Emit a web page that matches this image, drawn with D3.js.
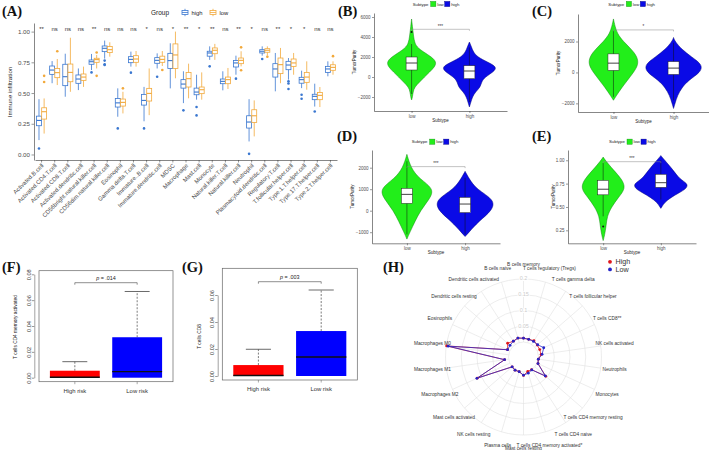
<!DOCTYPE html>
<html>
<head>
<meta charset="utf-8">
<script src="https://cdn.jsdelivr.net/npm/d3@7"></script>
<style>
  body { margin: 0; background: #fff; }
  svg text { font-family: "Liberation Sans", Arial, sans-serif; }
</style>
</head>
<body>
<script>
// ---------- (A) immune infiltration, high vs low ----------
const immuneCells = [
  'Activated.B.cell', 'Activated.CD4.T.cell', 'Activated.CD8.T.cell', 'Activated.dendritic.cell',
  'CD56bright.natural.killer.cell', 'CD56dim.natural.killer.cell', 'Eosinophil', 'Gamma.delta.T.cell',
  'Immature..B.cell', 'Immature.dendritic.cell', 'MDSC', 'Macrophage', 'Mast.cell', 'Monocyte',
  'Natural.killer.T.cell', 'Natural.killer.cell', 'Neutrophil', 'Plasmacytoid.dendritic.cell',
  'Regulatory.T.cell', 'T.follicular.helper.cell', 'Type.1.T.helper.cell', 'Type.17.T.helper.cell',
  'Type.2.T.helper.cell'
];
const immuneSig = ['**', 'ns', 'ns', 'ns', '**', 'ns', 'ns', 'ns', '*', 'ns', '*', '**', '*', '**',
  'ns', '**', '*', 'ns', '**', '*', '*', 'ns', 'ns'];
const groups = ['high', 'low'];
// [lower whisker, Q1, median, Q3, upper whisker]
const highBox = [
  [0.117, 0.234, 0.277, 0.312, 0.45], [0.58, 0.652, 0.687, 0.72, 0.76], [0.47, 0.56, 0.633, 0.734, 0.82],
  [0.524, 0.579, 0.614, 0.647, 0.70], [0.687, 0.734, 0.755, 0.769, 0.818], [0.78, 0.837, 0.864, 0.883, 0.927],
  [0.307, 0.386, 0.42, 0.456, 0.538], [0.715, 0.747, 0.774, 0.796, 0.837], [0.27, 0.402, 0.44, 0.489, 0.55],
  [0.70, 0.742, 0.766, 0.788, 0.823], [0.538, 0.70, 0.764, 0.823, 0.905], [0.418, 0.54, 0.573, 0.609, 0.677],
  [0.446, 0.486, 0.508, 0.54, 0.649], [0.77, 0.80, 0.826, 0.84, 0.88], [0.522, 0.576, 0.595, 0.614, 0.677],
  [0.649, 0.712, 0.745, 0.764, 0.804], [0.106, 0.215, 0.264, 0.315, 0.45], [0.804, 0.826, 0.84, 0.853, 0.88],
  [0.514, 0.63, 0.696, 0.739, 0.826], [0.609, 0.69, 0.728, 0.758, 0.785], [0.54, 0.58, 0.609, 0.628, 0.682],
  [0.39, 0.446, 0.473, 0.49, 0.576], [0.636, 0.668, 0.696, 0.717, 0.758]
];
const lowBox = [
  [0.17, 0.288, 0.348, 0.38, 0.456], [0.565, 0.625, 0.666, 0.70, 0.777], [0.51, 0.592, 0.668, 0.736, 0.95],
  [0.55, 0.603, 0.63, 0.655, 0.715], [0.70, 0.75, 0.772, 0.783, 0.81], [0.796, 0.829, 0.853, 0.878, 0.913],
  [0.334, 0.394, 0.424, 0.451, 0.51], [0.715, 0.75, 0.777, 0.804, 0.842], [0.32, 0.435, 0.497, 0.538, 0.70],
  [0.72, 0.75, 0.774, 0.80, 0.842], [0.62, 0.70, 0.81, 0.90, 1.0], [0.457, 0.549, 0.617, 0.668, 0.739],
  [0.446, 0.495, 0.527, 0.549, 0.668], [0.77, 0.82, 0.848, 0.867, 0.90], [0.533, 0.576, 0.609, 0.63, 0.704],
  [0.717, 0.739, 0.766, 0.785, 0.84], [0.147, 0.261, 0.315, 0.364, 0.44], [0.804, 0.832, 0.848, 0.861, 0.88],
  [0.58, 0.658, 0.731, 0.785, 0.867], [0.649, 0.717, 0.745, 0.777, 0.826], [0.527, 0.587, 0.63, 0.668, 0.758],
  [0.386, 0.446, 0.481, 0.505, 0.549], [0.649, 0.685, 0.709, 0.73, 0.758]
];
const highOut = [[0.049], [], [], [], [0.668], [0.764, 0.734, 0.728], [0.212], [0.666], [0.212], [0.633], [],
  [0.359], [0.386, 0.318], [0.717], [], [0.617], [0.005], [0.777], [], [0.595, 0.578, 0.533], [0.486, 0.454],
  [0.35], []];
const lowOut = [[0.64, 0.59], [0.84], [], [], [0.83, 0.64], [], [0.538], [], [], [0.687], [], [], [], [], [],
  [0.872, 0.685], [], [0.795], [], [], [], [], [0.80]];

// ---------- (B)-(E) TumorPurity violins ----------
const subtypes = ['low', 'high'];
// [value, relative density]
const bLowDens = [[5800, 0], [5000, 0.03], [4500, 0.05], [4000, 0.07], [3500, 0.1], [3000, 0.17], [2500, 0.4],
  [2000, 0.67], [1500, 0.83], [1000, 0.77], [500, 0.6], [0, 0.43], [-500, 0.27], [-1000, 0.1], [-1500, 0.05],
  [-2000, 0.03], [-2300, 0]];
const bHighDens = [[3500, 0], [3000, 0.07], [2500, 0.13], [2000, 0.27], [1500, 0.6], [1000, 0.93], [500, 0.8],
  [0, 0.52], [-500, 0.4], [-1000, 0.37], [-1500, 0.2], [-2000, 0.1], [-2500, 0.05], [-3000, 0]];
const cLowDens = [[3460, 0], [3000, 0.05], [2500, 0.13], [2000, 0.33], [1500, 0.6], [1000, 0.8], [500, 0.83],
  [0, 0.67], [-500, 0.47], [-1000, 0.27], [-1500, 0.1], [-1800, 0]];
const cHighDens = [[2260, 0], [2000, 0.05], [1500, 0.27], [1000, 0.6], [500, 0.97], [0, 0.9], [-500, 0.5],
  [-1000, 0.27], [-1500, 0.13], [-2000, 0.05], [-2330, 0]];
const dLowDens = [[2620, 0], [2000, 0.13], [1500, 0.4], [1000, 0.93], [500, 0.73], [0, 0.45], [-500, 0.27],
  [-1000, 0.1], [-1320, 0]];
const dHighDens = [[1830, 0], [1500, 0.13], [1000, 0.37], [500, 1.0], [0, 0.9], [-500, 0.45], [-1000, 0.13],
  [-1200, 0]];
const eLowDens = [[1.035, 0], [1.0, 0.07], [0.9, 0.33], [0.8, 0.62], [0.7, 0.76], [0.6, 0.5], [0.5, 0.28],
  [0.4, 0.13], [0.3, 0.1], [0.2, 0.05], [0.14, 0]];
const eHighDens = [[1.05, 0], [1.0, 0.13], [0.9, 0.4], [0.8, 0.62], [0.75, 0.9], [0.7, 0.87], [0.65, 0.6],
  [0.6, 0.33], [0.55, 0.13], [0.5, 0.03], [0.485, 0]];
// [lower whisker, Q1, median, Q3, upper whisker]
const bLowBox = [-1700, 700, 1400, 2000, 3300], bHighBox = [-2500, -170, 600, 1130, 2970];
const cLowBox = [-1580, 130, 600, 1200, 2700], cHighBox = [-1800, -130, 280, 700, 1920];
const dLowBox = [-1100, 340, 760, 1040, 2300], dHighBox = [-1100, -90, 310, 620, 1530];
const eLowBox = [0.40, 0.63, 0.69, 0.785, 0.97], eHighBox = [0.58, 0.71, 0.76, 0.85, 1.0];
const bLowOut = [4500], eLowOut = [0.29];
const bTicks = [-2000, 0, 2000, 4000, 6000];
const cTicks = [-2000, 0, 2000];
const dTicks = [-1000, 0, 1000, 2000];
const eTicks = [0.25, 0.5, 0.75, 1.0];
const violinSig = ['***', '*', '***', '***'];
const violinSigAt = [4770, 2750, 2050, 0.985];

// ---------- (F)-(G) risk groups ----------
const riskGroups = ['High risk', 'Low risk'];
const cd4Box = [[0, 0, 0.0003, 0.0054, 0.0124], [0, 0, 0.0047, 0.0313, 0.0667]];
const cd8Box = [[0, 0, 0.0004, 0.0081, 0.0198], [0, 0, 0.0141, 0.0333, 0.0637]];
const cd4Ticks = [0, 0.02, 0.04, 0.06, 0.08];
const cd8Ticks = [0, 0.02, 0.04, 0.06];

// ---------- (H) radar ----------
const radarCells = ['B cells memory', 'T cells regulatory (Tregs)', 'T cells gamma delta',
  'T cells follicular helper', 'T cells CD8**', 'NK cells activated', 'Neutrophils', 'Monocytes',
  'T cells CD4 memory resting', 'T cells CD4 naive', 'T cells CD4 memory activated*', 'Mast cells resting',
  'Plasma cells', 'NK cells resting', 'Mast cells activated', 'Macrophages M2', 'Macrophages M1',
  'Macrophages M0', 'Eosinophils', 'Dendritic cells resting', 'Dendritic cells activated', 'B cells naive'];
const radarHigh = [0.012, 0.011, 0.014, 0.010, 0.009, 0.009, 0.0, 0.003, 0.046, 0.0, 0.0, 0.011, 0.001, 0.002,
  0.0, 0.114, 0.013, 0.199, 0.008, 0.019, 0.012, 0.015];
const radarLow = [0.012, 0.011, 0.011, 0.012, 0.023, 0.012, 0.0, 0.003, 0.044, 0.001, 0.006, 0.010, 0.001, 0.002,
  0.0, 0.115, 0.013, 0.194, 0.008, 0.009, 0.012, 0.015];
const radarRings = [0, 0.05, 0.1, 0.15, 0.2];

const svg = d3.select('body').append('svg').attr('width', 709).attr('height', 450);

function styleAxis(g, fs) {
  g.attr('font-family', null).attr('font-size', fs);
  g.select('.domain').attr('stroke', '#222').attr('stroke-width', 0.55);
  g.selectAll('.tick line').attr('stroke', '#333').attr('stroke-width', 0.5);
  g.selectAll('.tick text').attr('fill', '#4d4d4d');
}

// panel tags
const tags = [['(A)', 2, 16], ['(B)', 338, 16], ['(C)', 532, 16], ['(D)', 337, 141], ['(E)', 532, 141],
  ['(F)', 2, 272], ['(G)', 182, 272], ['(H)', 383, 272]];
svg.selectAll('text.tag').data(tags).join('text')
  .attr('x', d => d[1]).attr('y', d => d[2]).text(d => d[0])
  .style('font-family', '"Liberation Serif", "Times New Roman", serif')
  .attr('font-weight', 'bold').attr('font-size', 14.5).attr('fill', '#111');

// ===== A =====
const xA = d3.scaleBand().domain(immuneCells).range([35, 337]).paddingInner(0.2).paddingOuter(0.1);
const gA = d3.scaleBand().domain(groups).range([0, xA.bandwidth()]).padding(0.04);
const yA = d3.scaleLinear().domain([-0.045, 1.07]).range([160, 23]);
const colA = d3.scaleOrdinal().domain(groups).range(['#3A77D0', '#F2A93B']);

const axAy = svg.append('g').attr('transform', 'translate(34,0)')
  .call(d3.axisLeft(yA).tickValues([0, 0.25, 0.5, 0.75, 1]).tickFormat(d3.format('.2f'))
    .tickSize(2.5).tickSizeOuter(0).tickPadding(1.5));
styleAxis(axAy, 6.2);
const axAx = svg.append('g').attr('transform', 'translate(0,160)')
  .call(d3.axisBottom(xA).tickSize(2.5).tickSizeOuter(0));
styleAxis(axAx, 5.9);
axAx.selectAll('.tick text').attr('x', 0).attr('y', 0).attr('dy', '0.35em')
  .attr('text-anchor', 'end').attr('transform', 'translate(1,4.5) rotate(-45)');

svg.append('text').attr('transform', 'translate(12,92) rotate(-90)').attr('text-anchor', 'middle')
  .attr('font-size', 6.2).attr('fill', '#222').text('Immune infiltration');

svg.append('g').selectAll('text').data(immuneSig).join('text')
  .attr('x', (d, i) => xA(immuneCells[i]) + xA.bandwidth() / 2).attr('y', yA(1.02))
  .attr('dominant-baseline', 'middle').attr('text-anchor', 'middle')
  .attr('font-size', 6).attr('fill', '#333').text(d => d);

const boxRows = immuneCells.flatMap((cell, i) => [
  { cell, group: 'high', s: highBox[i], out: highOut[i] },
  { cell, group: 'low', s: lowBox[i], out: lowOut[i] }
]);
const bw = gA.bandwidth();
const boxG = svg.append('g').selectAll('g').data(boxRows).join('g')
  .attr('transform', d => `translate(${xA(d.cell) + gA(d.group)},0)`)
  .attr('stroke', d => colA(d.group)).attr('stroke-width', 0.8).attr('fill', 'none');
boxG.append('line').attr('x1', bw / 2).attr('x2', bw / 2)
  .attr('y1', d => yA(d.s[0])).attr('y2', d => yA(d.s[4]));
boxG.append('rect').attr('x', 0).attr('width', bw).attr('fill', '#fff')
  .attr('y', d => yA(d.s[3])).attr('height', d => yA(d.s[1]) - yA(d.s[3]));
boxG.append('line').attr('x1', 0).attr('x2', bw).attr('stroke-width', 1.1)
  .attr('y1', d => yA(d.s[2])).attr('y2', d => yA(d.s[2]));
boxG.selectAll('circle').data(d => d.out.map(v => ({ v, group: d.group }))).join('circle')
  .attr('cx', bw / 2).attr('cy', d => yA(d.v)).attr('r', 1.3)
  .attr('fill', d => colA(d.group)).attr('stroke', 'none');

// legend A
svg.append('text').attr('x', 151).attr('y', 15).attr('font-size', 6.5).attr('fill', '#222').text('Group');
const legA = svg.append('g').selectAll('g').data(groups).join('g')
  .attr('transform', (d, i) => `translate(${182 + i * 28},0)`);
legA.append('line').attr('x1', 3).attr('x2', 3).attr('y1', 8.8).attr('y2', 16.2)
  .attr('stroke', d => colA(d)).attr('stroke-width', 0.8);
legA.append('rect').attr('x', 0).attr('y', 10.5).attr('width', 6).attr('height', 4)
  .attr('fill', '#fff').attr('stroke', d => colA(d)).attr('stroke-width', 0.8);
legA.append('line').attr('x1', 0).attr('x2', 6).attr('y1', 12.5).attr('y2', 12.5)
  .attr('stroke', d => colA(d)).attr('stroke-width', 0.8);
legA.append('text').attr('x', 9.5).attr('y', 14.6).attr('font-size', 5.8).attr('fill', '#222').text(d => d);

// ===== B-E =====
const violinFill = { low: '#22EE1A', high: '#0A0AE6' };
const violinEdge = { low: '#128A10', high: '#00007A' };
const wV = d3.scaleLinear().domain([0, 1]).range([0, 30]);

function violinPanel(p) {
  const x = d3.scalePoint().domain(subtypes).range([p.left, p.right]).padding(p.pad);
  const y = d3.scaleLinear().domain(p.domain).range([p.bottom, p.top]);
  const g = svg.append('g');

  const ay = g.append('g').attr('transform', `translate(${p.left},0)`)
    .call(d3.axisLeft(y).tickValues(p.ticks).tickFormat(p.fmt).tickSize(2).tickSizeOuter(0).tickPadding(1.5));
  styleAxis(ay, 4.5);
  const ax = g.append('g').attr('transform', `translate(0,${p.bottom})`)
    .call(d3.axisBottom(x).tickSize(2).tickSizeOuter(0).tickPadding(1.5));
  styleAxis(ax, 4.5);

  g.append('text').attr('transform', `translate(${p.yTitleX},${(p.top + p.bottom) / 2}) rotate(-90)`)
    .attr('text-anchor', 'middle').attr('font-size', 4.5).attr('fill', '#222').text('TumorPurity');
  g.append('text').attr('x', (p.left + p.right) / 2).attr('y', p.bottom + 10.5)
    .attr('text-anchor', 'middle').attr('font-size', 4.5).attr('fill', '#222').text('Subtype');

  const rows = subtypes.map(s => ({ s, dens: p.dens[s], box: p.box[s], out: p.out[s] || [] }));
  const vg = g.selectAll('g.v').data(rows).join('g').attr('class', 'v');
  vg.append('path')
    .attr('d', d => d3.area().curve(d3.curveBasis)
      .x0(v => x(d.s) - wV(v[1])).x1(v => x(d.s) + wV(v[1])).y(v => y(v[0]))(d.dens))
    .attr('fill', d => violinFill[d.s]).attr('stroke', d => violinEdge[d.s]).attr('stroke-width', 0.5);
  vg.append('line').attr('x1', d => x(d.s)).attr('x2', d => x(d.s))
    .attr('y1', d => y(d.box[0])).attr('y2', d => y(d.box[4])).attr('stroke', '#111').attr('stroke-width', 0.5);
  vg.append('rect').attr('x', d => x(d.s) - 5.5).attr('width', 11)
    .attr('y', d => y(d.box[3])).attr('height', d => y(d.box[1]) - y(d.box[3]))
    .attr('fill', '#fff').attr('stroke', '#222').attr('stroke-width', 0.5);
  vg.append('line').attr('x1', d => x(d.s) - 5.5).attr('x2', d => x(d.s) + 5.5)
    .attr('y1', d => y(d.box[2])).attr('y2', d => y(d.box[2])).attr('stroke', '#111').attr('stroke-width', 0.8);
  vg.selectAll('circle').data(d => d.out.map(v => ({ v, s: d.s }))).join('circle')
    .attr('cx', d => x(d.s)).attr('cy', d => y(d.v)).attr('r', 1).attr('fill', '#111');

  const sy = y(p.sigAt);
  g.append('path').attr('d', `M${x('low')},${sy + 1.5}V${sy}H${x('high')}V${sy + 1.5}`)
    .attr('fill', 'none').attr('stroke', '#888').attr('stroke-width', 0.5);
  g.append('text').attr('x', (x('low') + x('high')) / 2).attr('y', sy - 1.5).attr('text-anchor', 'middle')
    .attr('font-size', 4.5).attr('fill', '#333').text(p.sig);

  // legend
  const lg = g.append('g').attr('transform', `translate(${p.legX},${p.legY})`).attr('font-size', 4.3);
  lg.append('text').attr('x', 0).attr('y', 1.5).attr('fill', '#222').text('Subtype');
  const li = lg.selectAll('g').data(subtypes).join('g').attr('transform', (d, i) => `translate(${18 + i * 14},0)`);
  li.append('rect').attr('x', 0).attr('y', -2.6).attr('width', 5.2).attr('height', 5.2)
    .attr('fill', d => violinFill[d]).attr('stroke', d => violinEdge[d]).attr('stroke-width', 0.4);
  li.append('text').attr('x', 6.5).attr('y', 1.5).attr('fill', '#222').text(d => d);
}

violinPanel({ left: 374, right: 507, top: 13, bottom: 111, domain: [-3400, 6400], pad: 0.65,
  ticks: bTicks, fmt: d3.format('d'), yTitleX: 356, legX: 412.7, legY: 4,
  dens: { low: bLowDens, high: bHighDens }, box: { low: bLowBox, high: bHighBox }, out: { low: bLowOut },
  sig: violinSig[0], sigAt: violinSigAt[0] });
violinPanel({ left: 578, right: 709, top: 14, bottom: 112, domain: [-2560, 3780], pad: 0.59,
  ticks: cTicks, fmt: d3.format('d'), yTitleX: 560, legX: 608.3, legY: 4,
  dens: { low: cLowDens, high: cHighDens }, box: { low: cLowBox, high: cHighBox }, out: {},
  sig: violinSig[1], sigAt: violinSigAt[1] });
violinPanel({ left: 372, right: 500, top: 150, bottom: 243.3, domain: [-1516, 2823], pad: 0.6,
  ticks: dTicks, fmt: d3.format('d'), yTitleX: 354, legX: 411.7, legY: 141.7,
  dens: { low: dLowDens, high: dHighDens }, box: { low: dLowBox, high: dHighBox }, out: {},
  sig: violinSig[2], sigAt: violinSigAt[2] });
violinPanel({ left: 568, right: 696, top: 150, bottom: 243.3, domain: [0.111, 1.11], pad: 0.61,
  ticks: eTicks, fmt: d3.format('.2f'), yTitleX: 555, legX: 609, legY: 141.7,
  dens: { low: eLowDens, high: eHighDens }, box: { low: eLowBox, high: eHighBox }, out: { low: eLowOut },
  sig: violinSig[3], sigAt: violinSigAt[3] });

// ===== F, G =====
const riskFill = ['#FF0000', '#0000FF'];

function riskPanel(p) {
  const x = d3.scaleBand().domain(riskGroups).range([p.left, p.right]).paddingInner(0.2).paddingOuter(0.175);
  const y = d3.scaleLinear().domain([0, p.ticks[p.ticks.length - 1]]).range([p.y0, p.yMax]);
  const g = svg.append('g');
  g.append('rect').attr('x', p.left).attr('y', p.top).attr('width', p.right - p.left)
    .attr('height', p.bottom - p.top).attr('fill', 'none').attr('stroke', '#666').attr('stroke-width', 0.7);

  const ay = g.append('g').attr('transform', `translate(${p.axisX},0)`)
    .call(d3.axisLeft(y).tickValues(p.ticks).tickFormat(d3.format('.2f')).tickSize(2.5).tickSizeOuter(0));
  styleAxis(ay, 5.6);
  ay.select('.domain').attr('stroke', '#555');
  ay.selectAll('.tick text').attr('x', 0).attr('y', 0).attr('dy', 0).attr('text-anchor', 'middle')
    .attr('fill', '#333').attr('transform', 'translate(-3.8,0) rotate(-90)');

  g.selectAll('line.xt').data(riskGroups).join('line')
    .attr('x1', d => x(d) + x.bandwidth() / 2).attr('x2', d => x(d) + x.bandwidth() / 2)
    .attr('y1', p.bottom).attr('y2', p.bottom + 2.5).attr('stroke', '#555').attr('stroke-width', 0.5);
  g.selectAll('text.xl').data(riskGroups).join('text')
    .attr('x', d => x(d) + x.bandwidth() / 2).attr('y', p.bottom + 11).attr('text-anchor', 'middle')
    .attr('font-size', 5.9).attr('fill', '#333').text(d => d);
  g.append('text').attr('transform', `translate(${p.yTitleX},${(p.y0 + p.yMax) / 2 + 1}) rotate(-90)`)
    .attr('text-anchor', 'middle').attr('font-size', 4.8).attr('fill', '#222').text(p.title);

  const rows = riskGroups.map((r, i) => ({ r, s: p.box[i], fill: riskFill[i] }));
  const cx = d => x(d.r) + x.bandwidth() / 2;
  const bx = g.selectAll('g.b').data(rows).join('g').attr('class', 'b');
  bx.append('line').attr('x1', cx).attr('x2', cx).attr('y1', d => y(d.s[3])).attr('y2', d => y(d.s[4]))
    .attr('stroke', '#444').attr('stroke-width', 0.7).attr('stroke-dasharray', '2,1.5');
  bx.append('line').attr('x1', d => cx(d) - x.bandwidth() / 4).attr('x2', d => cx(d) + x.bandwidth() / 4)
    .attr('y1', d => y(d.s[4])).attr('y2', d => y(d.s[4])).attr('stroke', '#444').attr('stroke-width', 0.8);
  bx.append('rect').attr('x', d => x(d.r)).attr('width', x.bandwidth())
    .attr('y', d => y(d.s[3])).attr('height', d => y(d.s[1]) - y(d.s[3])).attr('fill', d => d.fill);
  bx.append('line').attr('x1', d => x(d.r)).attr('x2', d => x(d.r) + x.bandwidth())
    .attr('y1', d => y(d.s[2])).attr('y2', d => y(d.s[2])).attr('stroke', '#111').attr('stroke-width', 1.4);

  const x1 = cx(rows[0]), x2 = cx(rows[1]);
  g.append('path').attr('d', `M${x1},${p.sigY + 2}V${p.sigY}H${x2}V${p.sigY + 2}`)
    .attr('fill', 'none').attr('stroke', '#444').attr('stroke-width', 0.6);
  const pt = g.append('text').attr('x', (x1 + x2) / 2).attr('y', p.sigY - 3).attr('text-anchor', 'middle')
    .attr('font-size', 5.4).attr('fill', '#222');
  pt.append('tspan').attr('font-style', 'italic').text('p');
  pt.append('tspan').text(' = ' + p.pText);
}

riskPanel({ left: 39, right: 173, top: 270.7, bottom: 381.7, y0: 377.7, yMax: 274.3, axisX: 34.3,
  ticks: cd4Ticks, box: cd4Box, title: 'T cells CD4 memory activated', yTitleX: 17, sigY: 282.7, pText: '.014' });
riskPanel({ left: 222.3, right: 357.3, top: 268.3, bottom: 380, y0: 376, yMax: 295, axisX: 217.7,
  ticks: cd8Ticks, box: cd8Box, title: 'T cells CD8', yTitleX: 200.5, sigY: 281.7, pText: '.003' });

// ===== H =====
const rH = d3.scaleLinear().domain([0, 0.2]).range([15, 78]);
const stepH = 2 * Math.PI / radarCells.length;
const gH = svg.append('g').attr('transform', 'translate(523.5,357)');

gH.selectAll('circle.ring').data(radarRings).join('circle').attr('class', 'ring')
  .attr('r', d => rH(d)).attr('fill', 'none').attr('stroke', '#e0e0e0').attr('stroke-width', 0.6);
gH.selectAll('line.spoke').data(radarCells).join('line').attr('class', 'spoke')
  .attr('x1', (d, i) => d3.pointRadial(i * stepH, rH(0))[0]).attr('y1', (d, i) => d3.pointRadial(i * stepH, rH(0))[1])
  .attr('x2', (d, i) => d3.pointRadial(i * stepH, rH(0.2))[0]).attr('y2', (d, i) => d3.pointRadial(i * stepH, rH(0.2))[1])
  .attr('stroke', '#e0e0e0').attr('stroke-width', 0.6);
gH.selectAll('text.rl').data(radarRings.slice(1)).join('text').attr('class', 'rl')
  .attr('x', 0).attr('y', d => -rH(d)).attr('dominant-baseline', 'middle').attr('text-anchor', 'middle')
  .attr('font-size', 5.5).attr('fill', '#cbcbcb').attr('stroke', '#fff').attr('stroke-width', 2)
  .attr('paint-order', 'stroke').text(d => String(d));
gH.selectAll('text.cl').data(radarCells).join('text').attr('class', 'cl')
  .attr('x', (d, i) => d3.pointRadial(i * stepH, 92)[0]).attr('y', (d, i) => d3.pointRadial(i * stepH, 92)[1])
  .attr('dominant-baseline', 'middle').attr('text-anchor', 'middle')
  .attr('font-size', 4.8).attr('fill', '#333').text(d => d);

const radarLine = d3.lineRadial().angle((d, i) => i * stepH).radius(d => rH(d)).curve(d3.curveLinearClosed);
const radarSeries = [{ name: 'High', vals: radarHigh, col: '#E0161C' }, { name: 'Low', vals: radarLow, col: '#2424C8' }];
gH.selectAll('path.rs').data(radarSeries).join('path').attr('class', 'rs')
  .attr('d', d => radarLine(d.vals)).attr('fill', 'none').attr('stroke', d => d.col)
  .attr('stroke-width', 0.9).attr('stroke-opacity', 0.85);
radarSeries.forEach(s => {
  gH.append('g').selectAll('circle').data(s.vals).join('circle')
    .attr('cx', (d, i) => d3.pointRadial(i * stepH, rH(d))[0])
    .attr('cy', (d, i) => d3.pointRadial(i * stepH, rH(d))[1])
    .attr('r', 1.4).attr('fill', s.col);
});

const legH = svg.append('g').selectAll('g').data(radarSeries).join('g')
  .attr('transform', (d, i) => `translate(610,${261.8 + i * 7.6})`);
legH.append('circle').attr('r', 1.9).attr('fill', d => d.col);
legH.append('text').attr('x', 5.5).attr('y', 2.5).attr('font-size', 7.2).attr('fill', '#333').text(d => d.name);
</script>
</body>
</html>
